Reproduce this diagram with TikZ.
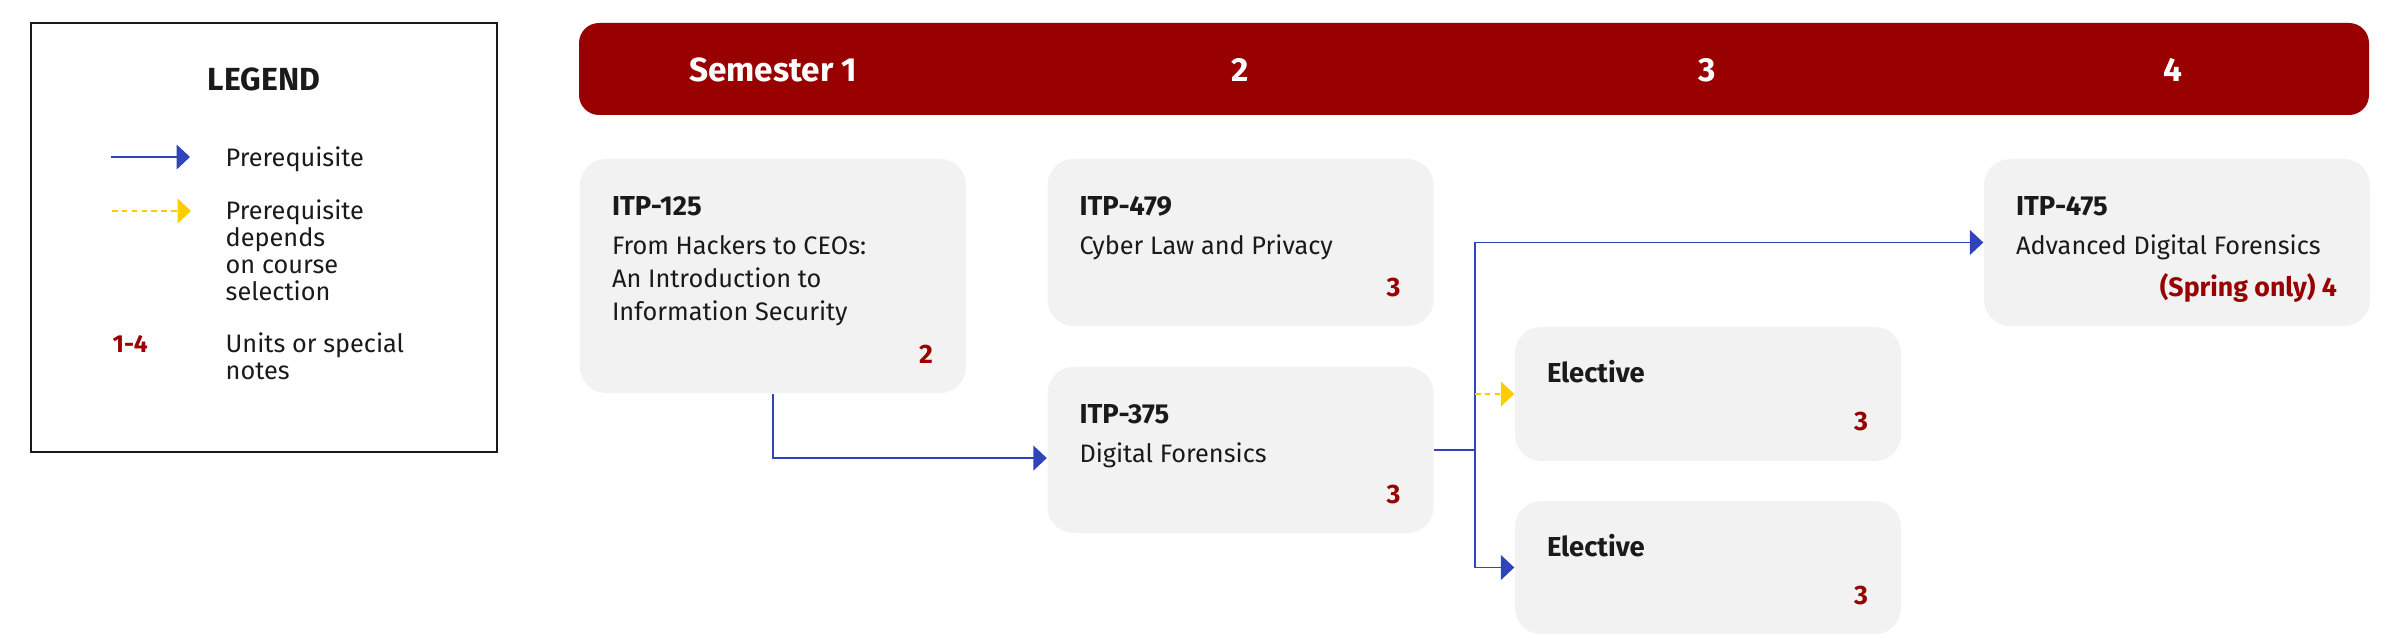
\documentclass[tikz,border=0pt]{standalone}
\usepackage{fontspec}
\setmainfont{Fira Sans}
\usetikzlibrary{arrows.meta,positioning}
\definecolor{usc}{RGB}{153,0,0}
\definecolor{boxgray}{RGB}{242,242,242}
\definecolor{prblue}{RGB}{46,68,184}
\definecolor{pryellow}{RGB}{255,204,0}
\definecolor{ink}{RGB}{26,26,26}

\begin{document}
\begin{tikzpicture}[x=0.1mm,y=-0.1mm,
    course/.style={fill=boxgray,rounded corners=7.4pt,minimum width=38.6mm,inner sep=0},
    ccode/.style={anchor=base west,inner sep=0,text=ink,font=\fontsize{7.8}{9}\selectfont\bfseries},
    ctitle/.style={anchor=base west,inner sep=0,text=ink,font=\fontsize{7.2}{9}\selectfont},
    cunits/.style={anchor=base east,inner sep=0,text=usc,font=\fontsize{7.6}{9}\selectfont\bfseries},
    sem/.style={anchor=base,inner sep=0,text=white,font=\fontsize{9.5}{11}\selectfont\bfseries},
    prereq/.style={draw=prblue,line width=0.5pt,-{Triangle[length=3.8pt,width=7pt]}},
    maybe/.style={draw=pryellow,line width=0.5pt,dash pattern=on 1.6pt off 1.2pt,-{Triangle[length=3.8pt,width=7pt]}}]
    \useasboundingbox (0,0) rectangle (2400,638);

    % --- LEGEND ---
    \node[draw=ink,line width=0.6pt,minimum width=46.6mm,minimum height=42.9mm,inner sep=0] (legend) at (264,237.5) {};
    \node[anchor=base,inner sep=0,text=ink,font=\fontsize{9.1}{11}\selectfont\bfseries] (lgtitle) at (264,91) {LEGEND};
    \coordinate (lga) at (111,157);
    \coordinate (lgb) at (190,157);
    \draw[prereq] (lga) -- (lgb);
    \node[ctitle] (lgt1) at (225,167) {Prerequisite};
    \coordinate (lgc) at (112,211);
    \coordinate (lgd) at (191,211);
    \draw[maybe] (lgc) -- (lgd);
    \foreach \ln [count=\i] in {Prerequisite, depends, on course, selection}
        \node[ctitle] (lgt2\i) at (225,193+27*\i) {\ln};
    \node[cunits,anchor=base west,font=\fontsize{7}{9}\selectfont\bfseries] (lgu) at (112,353) {1-4};
    \node[ctitle] (lgt31) at (225,353) {Units or special};
    \node[ctitle] (lgt32) at (225,380) {notes};

    % --- SEMESTER BAR ---
    \node[fill=usc,rounded corners=5.7pt,minimum width=179mm,minimum height=9.2mm,inner sep=0] (bar) at (1474,69) {};
    \node[sem] (s1) at (773,82) {Semester 1};
    \node[sem] (s2) at (1240,82) {2};
    \node[sem] (s3) at (1707,82) {3};
    \node[sem] (s4) at (2173,82) {4};

    % --- COURSES ---
    \node[course,minimum height=23.4mm] (c125) at (773,276) {};
    \node[ccode] (c125c) at ([shift={(32,57)}]c125.north west) {ITP-125};
    \foreach \ln [count=\i] in {From Hackers to CEOs:, An Introduction to, Information Security}
        \node[ctitle] (c125t\i) at ([shift={(32,63+33*\i)}]c125.north west) {\ln};
    \node[cunits] (c125u) at ([shift={(-33,-30)}]c125.south east) {2};

    \node[course,minimum height=16.7mm] (c479) at (1240.5,242.5) {};
    \node[ccode] (c479c) at ([shift={(32,57)}]c479.north west) {ITP-479};
    \node[ctitle] (c479t) at ([shift={(32,96)}]c479.north west) {Cyber Law and Privacy};
    \node[cunits] (c479u) at ([shift={(-33,-30)}]c479.south east) {3};

    \node[course,minimum height=16.6mm] (c375) at (1240.5,450) {};
    \node[ccode] (c375c) at ([shift={(32,57)}]c375.north west) {ITP-375};
    \node[ctitle] (c375t) at ([shift={(32,96)}]c375.north west) {Digital Forensics};
    \node[cunits] (c375u) at ([shift={(-33,-30)}]c375.south east) {3};

    \node[course,minimum height=13.4mm] (elec1) at (1708,394) {};
    \node[ccode] (elec1c) at ([shift={(32,56)}]elec1.north west) {Elective};
    \node[cunits] (elec1u) at ([shift={(-33,-31)}]elec1.south east) {3};

    \node[course,minimum height=13.3mm] (elec2) at (1708,567.5) {};
    \node[ccode] (elec2c) at ([shift={(32,56)}]elec2.north west) {Elective};
    \node[cunits] (elec2u) at ([shift={(-33,-30)}]elec2.south east) {3};

    \node[course,minimum height=16.7mm] (c475) at (2177,242.5) {};
    \node[ccode] (c475c) at ([shift={(32,57)}]c475.north west) {ITP-475};
    \node[ctitle] (c475t) at ([shift={(32,96)}]c475.north west) {Advanced Digital Forensics};
    \node[cunits] (c475u) at ([shift={(-33,-30)}]c475.south east) {(Spring only) 4};

    % --- PREREQUISITES ---
    \draw[prereq] (c125.south) |- ([yshift=-2.3pt]c375.west);
    \coordinate (split) at (1475,450);
    \draw[prereq] (c375.east) -- (split) |- (c475.west);
    \draw[prereq] (split) |- (elec2.west);
    \draw[maybe] (split |- elec1.west) -- (elec1.west);
\end{tikzpicture}
\end{document}
